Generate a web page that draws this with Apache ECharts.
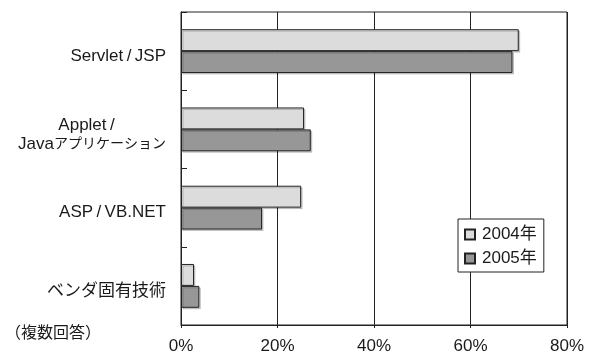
<!DOCTYPE html>
<html>
<head>
<meta charset="utf-8">
<script src="https://cdn.jsdelivr.net/npm/echarts@6/dist/echarts.min.js"></script>
<style>
  html, body { margin: 0; padding: 0; background: #fff; }
  #chart { width: 590px; height: 355px; }
</style>
</head>
<body>
<div id="chart"></div>
<script>
const categories = ['Servlet\u2009/\u2009JSP', 'Applet\u2009/\nJavaアプリケーション', 'ASP\u2009/\u2009VB.NET', 'ベンダ固有技術']
const seriesNames = ['2004年', '2005年']
const values2004 = [70.0, 25.5, 24.9, 2.7]
const values2005 = [68.7, 26.9, 16.8, 3.8]
const xTicks = [0, 20, 40, 60, 80]

const font = '"Liberation Sans", Arial, "Noto Sans CJK JP", sans-serif'
const ink = '#1a1a1a'

const chart = echarts.init(document.getElementById('chart'))

const barStyle = (color) => ({
  color: color,
  borderColor: '#222',
  borderWidth: 1,
  shadowColor: 'rgba(0,0,0,0.18)',
  shadowOffsetX: 1.5,
  shadowOffsetY: 1.5,
  shadowBlur: 0,
})

const option = {
  backgroundColor: '#fff',
  animation: false,
  textStyle: { fontFamily: font, color: ink },
  grid: {
    left: 181,
    right: 23,
    top: 12,
    bottom: 24,
    show: true,
    borderColor: '#222',
    borderWidth: 1,
  },
  legend: {
    orient: 'vertical',
    left: 458,
    top: 219,
    padding: [6, 7, 4, 6],
    itemWidth: 10,
    itemHeight: 10,
    itemGap: 5,
    icon: 'rect',
    backgroundColor: '#fff',
    borderColor: '#222',
    borderWidth: 1,
    textStyle: { fontSize: 17, lineHeight: 19, color: ink, fontFamily: font, padding: [0, 0, 0, 2] },
    data: seriesNames,
  },
  xAxis: {
    type: 'value',
    min: xTicks[0],
    max: xTicks[xTicks.length - 1],
    interval: 20,
    axisLine: { show: true, lineStyle: { color: '#222' } },
    axisTick: { show: true, length: 3, lineStyle: { color: '#222' } },
    axisLabel: { formatter: '{value}%', fontSize: 17, color: ink, margin: 13, fontFamily: font },
    splitLine: { show: true, lineStyle: { color: '#222', width: 1 } },
  },
  yAxis: {
    type: 'category',
    inverse: true,
    data: categories,
    axisLine: { show: true, lineStyle: { color: '#222' } },
    axisTick: { show: true, inside: true, length: 6, lineStyle: { color: '#222' } },
    axisLabel: {
      fontSize: 17,
      color: ink,
      margin: 15,
      padding: [10, 0, 0, 0],
      fontFamily: font,
      formatter: (v) => {
        if (v.indexOf('\n') < 0) return v
        const parts = v.split('\n')
        return '{c|' + parts[0] + '}\n{j|Java}{k|' + parts[1].replace('Java', '') + '}'
      },
      rich: {
        c: { fontSize: 17, width: 159, align: 'center', lineHeight: 19, fontFamily: font, color: ink },
        j: { fontSize: 17, lineHeight: 19, fontFamily: font, color: ink },
        k: { fontSize: 14, lineHeight: 19, fontFamily: font, color: ink },
      },
    },
  },
  graphic: [
    {
      type: 'text',
      left: 5,
      top: 326,
      style: { text: '（複数回答）', fontSize: 16, fill: ink, fontFamily: font },
    },
  ],
  series: [
    {
      name: seriesNames[0],
      type: 'bar',
      data: values2004,
      barGap: '0%',
      barCategoryGap: '44%',
      itemStyle: barStyle('#dcdcdc'),
    },
    {
      name: seriesNames[1],
      type: 'bar',
      data: values2005,
      barGap: '0%',
      barCategoryGap: '44%',
      itemStyle: barStyle('#979797'),
    },
  ],
}

chart.setOption(option)
</script>
</body>
</html>
